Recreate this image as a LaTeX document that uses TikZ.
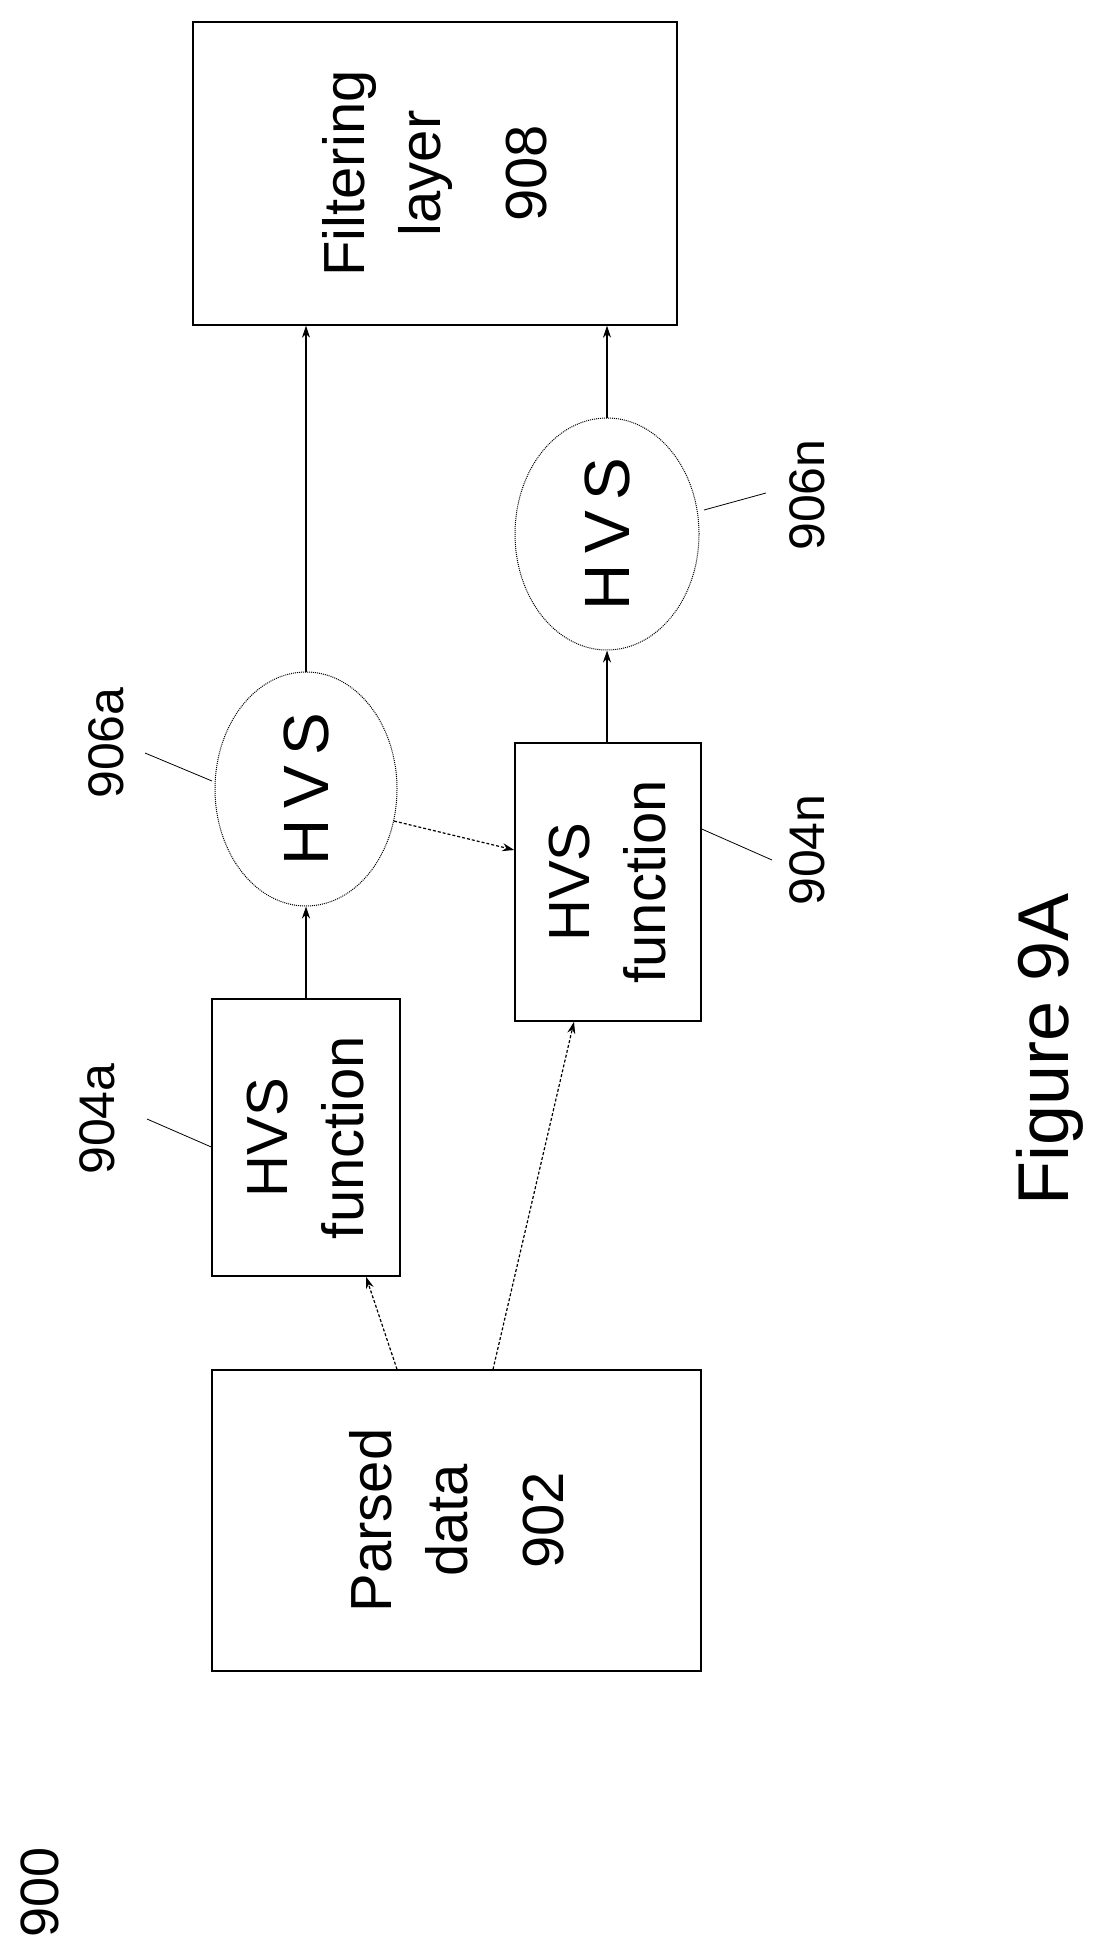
\documentclass[tikz,border=0pt]{standalone}
\usepackage{fontspec}
\setmainfont{Liberation Sans}
\usetikzlibrary{shapes.geometric,arrows.meta}
\begin{document}
\begin{tikzpicture}[x=1pt,y=-1pt,
  box/.style={draw,line width=1.4pt,inner sep=0pt},
  oval/.style={draw,ellipse,densely dotted,line width=1pt,inner sep=0pt},
  txt/.style={rotate=90,align=center,font=\fontsize{58}{76}\selectfont},
  lbl/.style={rotate=90,font=\fontsize{50}{60}\selectfont},
  lead/.style={line width=0.8pt},
  arr/.style={line width=1.2pt,-{Stealth[length=12pt,width=8pt]}},
  darr/.style={arr,densely dashed}]
\useasboundingbox (0,0) rectangle (1110,1958);
\node[box,minimum width=489pt,minimum height=301pt] (p) at (456.5,1520.5) {};
\node[txt] at (p.center) {Parsed\\data\\[20pt]902};
\node[box,minimum width=188pt,minimum height=277pt] (a) at (306,1137.5) {};
\node[txt] at (a.center) {HVS\\function};
\node[box,minimum width=186pt,minimum height=278pt] (n) at (608,882) {};
\node[txt] at (n.center) {HVS\\function};
\node[box,minimum width=484pt,minimum height=303pt] (f) at (435,173.5) {};
\node[txt] at (f.center) {Filtering\\layer\\[30pt]908};
\node[oval,minimum width=182pt,minimum height=234pt] (ea) at (306,789) {};
\node[txt,font=\fontsize{64}{72}\selectfont] at (ea.center) {H\,V\,S};
\node[oval,minimum width=184pt,minimum height=232pt] (en) at (607,534) {};
\node[txt,font=\fontsize{64}{72}\selectfont] at (en.center) {H\,V\,S};
% connectors
\draw[darr] (p.north -| 397,0) -- (a.south -| 366,0);
\draw[darr] (p.north -| 493,0) -- (n.south -| 574,0);
\draw[arr] (a.north) -- (ea.south);
\draw[darr] (ea.-20) -- (n.west |- 0,850);
\draw[arr] (n.north -| en.south) -- (en.south);
\draw[arr] (ea.north) -- (ea.north |- f.south);
\draw[arr] (en.north) -- (en.north |- f.south);
% labels
\node[lbl] (la) at (97,1119) {904a};
\node[lbl] (l6a) at (106,743) {906a};
\node[lbl] (ln) at (807,850) {904n};
\node[lbl] (l6n) at (807,495) {906n};
\coordinate (ca) at (147,1119); \coordinate (c6a) at (145,753);
\coordinate (cn) at (772,860); \coordinate (c6n) at (766,493);
\draw[lead] (ca) -- (a.west |- 0,1147);
\draw[lead] (c6a) -- (212,781);
\draw[lead] (cn) -- (n.east |- 0,829);
\draw[lead] (c6n) -- (704,510);
\node[lbl,font=\fontsize{54}{60}\selectfont] (l900) at (40,1892) {900};
\node[rotate=90,font=\fontsize{72}{80}\selectfont] (fig) at (1050,1049) {Figure 9A};
\end{tikzpicture}
\end{document}
